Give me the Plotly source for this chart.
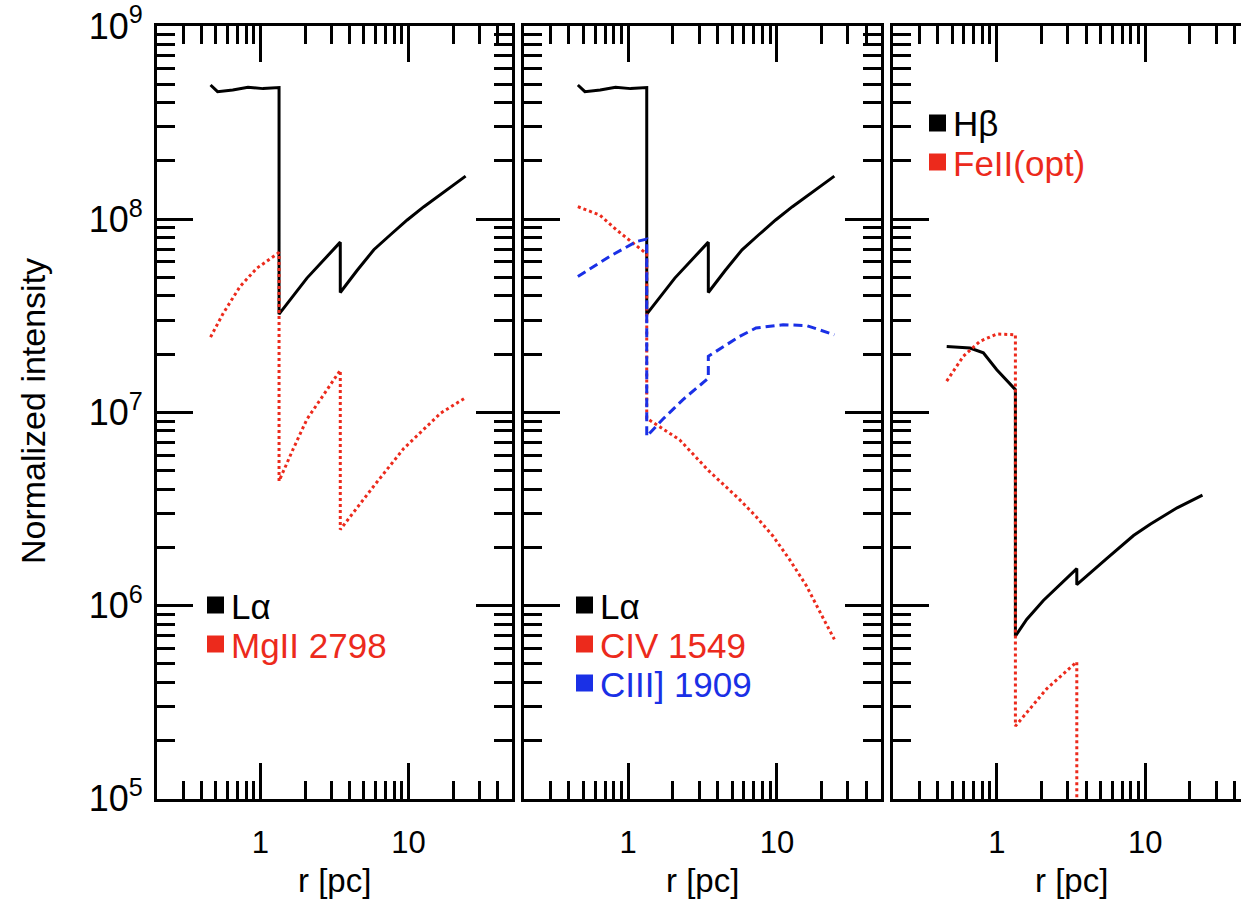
import plotly.graph_objects as go
import math

W, H = 1241, 905

# ---- emission-line profiles, normalized intensity vs radius r [pc] ----
# Lyman alpha (shared by the first two panels)
r_lya = [0.46, 0.513, 0.65, 0.824, 1.04, 1.335, 1.335, 2.06, 3.46, 3.46, 4.49, 5.83, 7.55, 9.8, 12.7, 16.5, 24.3]
i_lya = [4.95e8, 4.57e8, 4.66e8, 4.82e8, 4.74e8, 4.8e8, 3.22e7, 4.95e7, 7.6e7, 4.17e7, 5.42e7, 6.94e7, 8.3e7, 9.9e7, 1.16e8, 1.34e8, 1.67e8]

# MgII 2798
r_mg2 = [0.46, 0.561, 0.728, 0.944, 1.335, 1.335, 1.67, 2.06, 3.46, 3.46, 5.9, 9.3, 16.5, 24.3]
i_mg2 = [2.45e7, 3.26e7, 4.48e7, 5.57e7, 6.71e7, 4.4e6, 6.5e6, 9.2e6, 1.65e7, 2.47e6, 4.2e6, 6.5e6, 9.9e6, 1.19e7]

# CIV 1549
r_c4 = [0.46, 0.645, 0.836, 1.335, 1.335, 2.22, 3.46, 5.62, 7.28, 9.42, 12.2, 15.8, 20.5, 24.3]
i_c4 = [1.16e8, 1.05e8, 8.8e7, 6.6e7, 9.3e6, 7.2e6, 5.0e6, 3.53e6, 2.87e6, 2.28e6, 1.72e6, 1.26e6, 8.55e5, 6.67e5]

# CIII] 1909
r_c3 = [0.46, 0.753, 1.14, 1.335, 1.335, 1.71, 2.33, 3.46, 3.46, 5.62, 7.23, 11.0, 15.8, 24.3]
i_c3 = [5.05e7, 6.41e7, 7.66e7, 7.88e7, 7.5e6, 9.2e6, 1.16e7, 1.5e7, 1.95e7, 2.47e7, 2.73e7, 2.84e7, 2.81e7, 2.52e7]

# H beta
r_hb = [0.46, 0.66, 0.812, 1.0, 1.335, 1.335, 1.59, 2.06, 3.46, 3.46, 5.52, 8.34, 10.8, 13.3, 16.4, 24.3]
i_hb = [2.19e7, 2.15e7, 2.03e7, 1.66e7, 1.31e7, 6.93e5, 8.45e5, 1.06e6, 1.55e6, 1.28e6, 1.75e6, 2.3e6, 2.63e6, 2.9e6, 3.2e6, 3.72e6]

# FeII (optical); falls below the plotted range beyond ~3.5 pc
r_fe2 = [0.46, 0.596, 0.771, 1.0, 1.335, 1.335, 2.17, 3.46, 3.46]
i_fe2 = [1.45e7, 1.95e7, 2.33e7, 2.54e7, 2.52e7, 2.37e5, 3.7e5, 5.1e5, 3e4]

# axis ticks
x_major = [1, 10]
x_major_text = ["1", "10"]
x_minor = [0.3, 0.4, 0.5, 0.6, 0.7, 0.8, 0.9, 2, 3, 4, 5, 6, 7, 8, 9, 20, 30, 40]
y_major = [1e5, 1e6, 1e7, 1e8, 1e9]
y_major_text = ["10<sup>5</sup>", "10<sup>6</sup>", "10<sup>7</sup>", "10<sup>8</sup>", "10<sup>9</sup>"]
y_minor = [m * 10 ** e for e in range(5, 9) for m in range(2, 10)]

BLACK = "#000000"
RED = "#ec2a1c"
BLUE = "#1a30e6"
FONT = "Liberation Sans, Arial, sans-serif"

# panel frames in pixels (left, right); the last one runs past the page edge
panels = [(157, 512), (524, 881), (893, 1249)]
top_px, bot_px = 26, 798.5
x_lo, x_hi = math.log10(0.2), math.log10(50)

series = [
    [("Lα", r_lya, i_lya, BLACK, "solid", 3), ("MgII 2798", r_mg2, i_mg2, RED, "dot", 3)],
    [("Lα", r_lya, i_lya, BLACK, "solid", 3), ("CIV 1549", r_c4, i_c4, RED, "dot", 3),
     ("CIII] 1909", r_c3, i_c3, BLUE, "9px,5px", 3)],
    [("Hβ", r_hb, i_hb, BLACK, "solid", 3), ("FeII(opt)", r_fe2, i_fe2, RED, "dot", 3)],
]

# legend block: square left edge and first row centre, in pixels
legend_pos = [(207, 605), (576, 605), (929, 123)]

fig = go.Figure()

tick_common = dict(
    ticks="inside", ticklen=36, tickwidth=2.5, tickcolor=BLACK,
    showline=True, linewidth=3, linecolor=BLACK,
    showgrid=False, zeroline=False, type="log", automargin=False,
)
minor_common = dict(ticks="inside", ticklen=18, tickwidth=2.5, tickcolor=BLACK, showgrid=False)

layout = dict(
    width=W, height=H,
    margin=dict(l=0, r=0, t=0, b=0),
    paper_bgcolor="white", plot_bgcolor="white",
    showlegend=False,
    font=dict(family=FONT, color=BLACK),
)
annotations = []
shapes = []

for k, ((left, right), lines) in enumerate(zip(panels, series)):
    idx = "" if k == 0 else str(k + 1)
    xa, ya = "x" + idx, "y" + idx
    decade = (right - left) / (x_hi - x_lo)
    right_clip = min(right, W)
    rng_hi = x_lo + (right_clip - left) / decade

    for name, r, inten, color, dash, width in lines:
        fig.add_trace(go.Scatter(
            x=r, y=inten, mode="lines", name=name,
            line=dict(color=color, dash=dash, width=width),
            xaxis=xa, yaxis=ya, hoverinfo="skip",
        ))

    layout["xaxis" + idx] = dict(
        tick_common, domain=[left / W, right_clip / W], range=[x_lo, rng_hi],
        anchor=ya, mirror="allticks",
        tickvals=x_major, ticktext=x_major_text, ticklabelstandoff=14,
        tickfont=dict(family=FONT, size=31, color=BLACK),
        minor=dict(minor_common, tickvals=x_minor),
    )
    layout["yaxis" + idx] = dict(
        tick_common, domain=[1 - bot_px / H, 1 - top_px / H], range=[5, 9],
        anchor=xa, mirror="allticks" if right <= W else False,
        tickvals=y_major, ticktext=y_major_text, showticklabels=(k == 0),
        ticklabelstandoff=4,
        tickfont=dict(family=FONT, size=36, color=BLACK),
        minor=dict(minor_common, tickvals=y_minor),
    )

    # x-axis title below each panel
    annotations.append(dict(
        text="r [pc]", xref="paper", yref="paper",
        x=(left + right) / 2 / W, y=1 - 880 / H, xanchor="center", yanchor="middle",
        showarrow=False, font=dict(family=FONT, size=33, color=BLACK),
    ))

    # legend: coloured square + label per line
    sq_x, row_y = legend_pos[k]
    for j, (name, _, _, color, _, _) in enumerate(lines):
        cy = row_y + j * 39
        shapes.append(dict(
            type="rect", xref="paper", yref="paper",
            x0=sq_x / W, x1=(sq_x + 17) / W, y0=1 - (cy + 8.5) / H, y1=1 - (cy - 8.5) / H,
            fillcolor=color, line=dict(width=0),
        ))
        annotations.append(dict(
            text=name, xref="paper", yref="paper",
            x=(sq_x + 22) / W, y=1 - (cy + 1) / H, xanchor="left", yanchor="middle",
            showarrow=False, font=dict(family=FONT, size=35, color=color),
        ))

# right-hand ticks of the last panel, whose frame is cut by the page edge
layout["yaxis4"] = dict(
    type="log", range=[5, 9], overlaying="y3", anchor="x3", side="right",
    showline=False, showgrid=False, zeroline=False, showticklabels=False,
    automargin=False,
    ticks="inside", ticklen=36, tickwidth=2.5, tickcolor=BLACK, tickvals=y_major,
    minor=dict(minor_common, tickvals=y_minor),
)

annotations.append(dict(
    text="Normalized intensity", xref="paper", yref="paper",
    x=33 / W, y=1 - 411 / H, xanchor="center", yanchor="middle", textangle=-90,
    showarrow=False, font=dict(family=FONT, size=34, color=BLACK),
))

layout["annotations"] = annotations
layout["shapes"] = shapes
fig.update_layout(**layout)

fig.write_html("out.html")
